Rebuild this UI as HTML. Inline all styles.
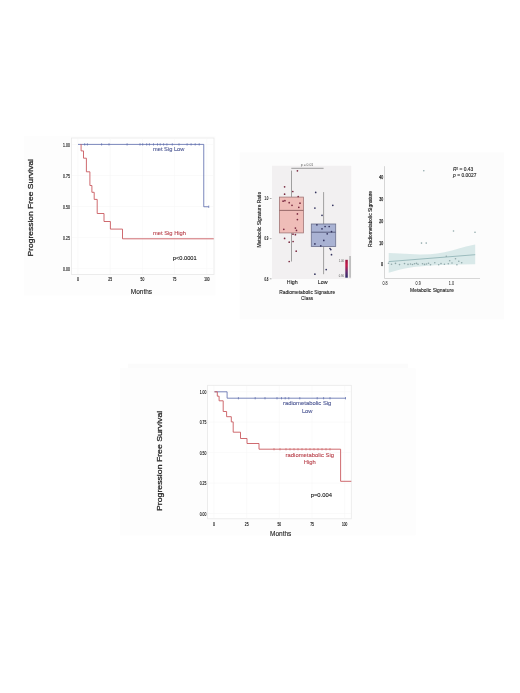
<!DOCTYPE html>
<html><head><meta charset="utf-8"><style>
html,body{margin:0;padding:0;background:#fff;width:520px;height:693px;overflow:hidden}
svg{position:absolute;left:0;top:0;display:block;filter:blur(0.35px)}
text{font-family:"Liberation Sans", sans-serif}
</style></head><body>
<svg width="520" height="693" viewBox="0 0 520 693" font-family='"Liberation Sans", sans-serif'>
<rect x="0" y="0" width="520" height="693" fill="#ffffff"/>
<rect x="23.8" y="136.2" width="191.7" height="159.2" fill="#fdfdfd" stroke="none" stroke-width="1"/>
<rect x="71.5" y="138" width="142.5" height="136.5" fill="#ffffff" stroke="#e8e8e8" stroke-width="0.8"/>
<path d="M78.00,138.5 V274" stroke="#f6f6f6" stroke-width="0.6" fill="none"/>
<path d="M110.20,138.5 V274" stroke="#f6f6f6" stroke-width="0.6" fill="none"/>
<path d="M142.40,138.5 V274" stroke="#f6f6f6" stroke-width="0.6" fill="none"/>
<path d="M174.60,138.5 V274" stroke="#f6f6f6" stroke-width="0.6" fill="none"/>
<path d="M206.80,138.5 V274" stroke="#f6f6f6" stroke-width="0.6" fill="none"/>
<path d="M72,268.60 H213.5" stroke="#f6f6f6" stroke-width="0.6" fill="none"/>
<path d="M72,237.55 H213.5" stroke="#f6f6f6" stroke-width="0.6" fill="none"/>
<path d="M72,206.50 H213.5" stroke="#f6f6f6" stroke-width="0.6" fill="none"/>
<path d="M72,175.45 H213.5" stroke="#f6f6f6" stroke-width="0.6" fill="none"/>
<path d="M72,144.40 H213.5" stroke="#f6f6f6" stroke-width="0.6" fill="none"/>
<text x="69.8" y="146.5" font-size="5.8" fill="#222" text-anchor="end" textLength="6.7" lengthAdjust="spacingAndGlyphs" stroke="#222" stroke-width="0.18">1.00</text>
<text x="69.8" y="177.55" font-size="5.8" fill="#222" text-anchor="end" textLength="6.7" lengthAdjust="spacingAndGlyphs" stroke="#222" stroke-width="0.18">0.75</text>
<text x="69.8" y="208.6" font-size="5.8" fill="#222" text-anchor="end" textLength="6.7" lengthAdjust="spacingAndGlyphs" stroke="#222" stroke-width="0.18">0.50</text>
<text x="69.8" y="239.65" font-size="5.8" fill="#222" text-anchor="end" textLength="6.7" lengthAdjust="spacingAndGlyphs" stroke="#222" stroke-width="0.18">0.25</text>
<text x="69.8" y="270.70000000000005" font-size="5.8" fill="#222" text-anchor="end" textLength="6.7" lengthAdjust="spacingAndGlyphs" stroke="#222" stroke-width="0.18">0.00</text>
<text x="78.0" y="280.6" font-size="5.0" fill="#222" text-anchor="middle" textLength="2.0" lengthAdjust="spacingAndGlyphs" stroke="#222" stroke-width="0.18">0</text>
<text x="110.2" y="280.6" font-size="5.0" fill="#222" text-anchor="middle" textLength="3.7" lengthAdjust="spacingAndGlyphs" stroke="#222" stroke-width="0.18">25</text>
<text x="142.4" y="280.6" font-size="5.0" fill="#222" text-anchor="middle" textLength="3.7" lengthAdjust="spacingAndGlyphs" stroke="#222" stroke-width="0.18">50</text>
<text x="174.6" y="280.6" font-size="5.0" fill="#222" text-anchor="middle" textLength="3.7" lengthAdjust="spacingAndGlyphs" stroke="#222" stroke-width="0.18">75</text>
<text x="206.8" y="280.6" font-size="5.0" fill="#222" text-anchor="middle" textLength="5.3" lengthAdjust="spacingAndGlyphs" stroke="#222" stroke-width="0.18">100</text>
<text x="141.4" y="294.2" font-size="6.5" fill="#222" text-anchor="middle" stroke="#222" stroke-width="0.1">Months</text>
<text x="0" y="0" font-size="8.5" fill="#222" text-anchor="middle" textLength="97.5" lengthAdjust="spacingAndGlyphs" stroke="#222" stroke-width="0.3" transform="translate(33.4 207.75) scale(0.8 1) rotate(-90)">Progression Free Survival</text>
<path d="M78,144.4 H203.75 V206.75 H208.75" stroke="#4f5fa6" stroke-width="0.75" fill="none"/>
<path d="M84.7,143.2 V145.6" stroke="#4f5fa6" stroke-width="0.6" fill="none"/>
<path d="M87.4,143.2 V145.6" stroke="#4f5fa6" stroke-width="0.6" fill="none"/>
<path d="M101.6,143.2 V145.6" stroke="#4f5fa6" stroke-width="0.6" fill="none"/>
<path d="M109,143.2 V145.6" stroke="#4f5fa6" stroke-width="0.6" fill="none"/>
<path d="M127.1,143.2 V145.6" stroke="#4f5fa6" stroke-width="0.6" fill="none"/>
<path d="M140,143.2 V145.6" stroke="#4f5fa6" stroke-width="0.6" fill="none"/>
<path d="M142.7,143.2 V145.6" stroke="#4f5fa6" stroke-width="0.6" fill="none"/>
<path d="M146.7,143.2 V145.6" stroke="#4f5fa6" stroke-width="0.6" fill="none"/>
<path d="M149.4,143.2 V145.6" stroke="#4f5fa6" stroke-width="0.6" fill="none"/>
<path d="M153.5,143.2 V145.6" stroke="#4f5fa6" stroke-width="0.6" fill="none"/>
<path d="M157.5,143.2 V145.6" stroke="#4f5fa6" stroke-width="0.6" fill="none"/>
<path d="M160.2,143.2 V145.6" stroke="#4f5fa6" stroke-width="0.6" fill="none"/>
<path d="M163.6,143.2 V145.6" stroke="#4f5fa6" stroke-width="0.6" fill="none"/>
<path d="M166.9,143.2 V145.6" stroke="#4f5fa6" stroke-width="0.6" fill="none"/>
<path d="M172.3,143.2 V145.6" stroke="#4f5fa6" stroke-width="0.6" fill="none"/>
<path d="M179,143.2 V145.6" stroke="#4f5fa6" stroke-width="0.6" fill="none"/>
<path d="M187.1,143.2 V145.6" stroke="#4f5fa6" stroke-width="0.6" fill="none"/>
<path d="M191.1,143.2 V145.6" stroke="#4f5fa6" stroke-width="0.6" fill="none"/>
<path d="M195.2,143.2 V145.6" stroke="#4f5fa6" stroke-width="0.6" fill="none"/>
<path d="M199.2,143.2 V145.6" stroke="#4f5fa6" stroke-width="0.6" fill="none"/>
<path d="M208.75,205.5 V208" stroke="#4f5fa6" stroke-width="0.6" fill="none"/>
<path d="M80.8,144.4 L81.1,144.4 L81.1,150.9 L83.5,150.9 L83.5,158.2 L86.4,158.2 L86.4,171.8 L89.9,171.8 L89.9,185.5 L91.9,185.5 L91.9,192.3 L94.2,192.3 L94.2,199.4 L97.2,199.4 L97.2,213.5 L104,213.5 L104,221.5 L110.4,221.5 L110.4,229.1 L122.5,229.1 L122.5,238.8 L213.75,238.8" stroke="#c95a60" stroke-width="0.9" fill="none"/>
<text x="168.7" y="151.1" font-size="6.1" fill="#4a5592" text-anchor="middle" textLength="31.4" lengthAdjust="spacingAndGlyphs" stroke="#4a5592" stroke-width="0.1">met Sig Low</text>
<text x="169.5" y="235.1" font-size="6.1" fill="#b8404a" text-anchor="middle" textLength="33.0" lengthAdjust="spacingAndGlyphs" stroke="#b8404a" stroke-width="0.1">met Sig High</text>
<text x="184.7" y="259.5" font-size="6.0" fill="#111" text-anchor="middle" textLength="23.8" lengthAdjust="spacingAndGlyphs" stroke="#111" stroke-width="0.1">p&lt;0.0001</text>
<rect x="239.7" y="152.3" width="264.1" height="167.1" fill="#fcfcfc" stroke="none" stroke-width="1"/>
<rect x="272" y="165.8" width="79.2" height="113.2" fill="#f2f0f1" stroke="none" stroke-width="1"/>
<text x="268.4" y="200.20000000000002" font-size="4.8" fill="#222" text-anchor="end" textLength="4.0" lengthAdjust="spacingAndGlyphs" stroke="#222" stroke-width="0.18">1.0</text>
<path d="M269.8,198.50 H271.5" stroke="#555" stroke-width="0.5" fill="none"/>
<text x="268.4" y="240.35000000000002" font-size="4.8" fill="#222" text-anchor="end" textLength="4.0" lengthAdjust="spacingAndGlyphs" stroke="#222" stroke-width="0.18">0.9</text>
<path d="M269.8,238.65 H271.5" stroke="#555" stroke-width="0.5" fill="none"/>
<text x="268.4" y="280.5" font-size="4.8" fill="#222" text-anchor="end" textLength="4.0" lengthAdjust="spacingAndGlyphs" stroke="#222" stroke-width="0.18">0.8</text>
<path d="M269.8,278.80 H271.5" stroke="#555" stroke-width="0.5" fill="none"/>
<text x="0" y="0" font-size="5.0" fill="#222" text-anchor="middle" textLength="55.6" lengthAdjust="spacingAndGlyphs" stroke="#222" stroke-width="0.15" transform="translate(260.9 219.7) scale(0.95 1) rotate(-90)">Metabolic Signature Ratio</text>
<path d="M291.5,170.6 V197.1 M291.5,232.9 V261.5" stroke="#8a8a8a" stroke-width="0.8" fill="none"/>
<rect x="279.4" y="197.1" width="24" height="35.8" fill="#efbdb8" stroke="#a27676" stroke-width="0.8"/>
<path d="M279.4,210.4 H303.4" stroke="#8d6060" stroke-width="0.9" fill="none"/>
<path d="M323.6,192.1 V224 M323.6,246.5 V274.2" stroke="#8a8a8a" stroke-width="0.8" fill="none"/>
<rect x="311.3" y="224" width="24.4" height="22.5" fill="#a9b2d3" stroke="#6b6f8c" stroke-width="0.8"/>
<path d="M311.3,232.2 H335.7" stroke="#5a5f80" stroke-width="1.0" fill="none"/>
<path d="M291.3,168.3 H323.6" stroke="#777" stroke-width="0.7" fill="none"/>
<text x="307.0" y="166.3" font-size="4.0" fill="#555" text-anchor="middle" textLength="12.4" lengthAdjust="spacingAndGlyphs">p = 0.01</text>
<text x="292.3" y="284.4" font-size="5.3" fill="#222" text-anchor="middle" stroke="#222" stroke-width="0.1">High</text>
<text x="322.6" y="284.4" font-size="5.3" fill="#222" text-anchor="middle" stroke="#222" stroke-width="0.1">Low</text>
<text x="307.2" y="294.0" font-size="4.9" fill="#222" text-anchor="middle" textLength="56" lengthAdjust="spacingAndGlyphs" stroke="#222" stroke-width="0.1">Radiometabolic Signature</text>
<text x="307.2" y="300.0" font-size="4.9" fill="#222" text-anchor="middle" textLength="12.2" lengthAdjust="spacingAndGlyphs" stroke="#222" stroke-width="0.1">Class</text>
<defs><linearGradient id="cb" x1="0" y1="0" x2="0" y2="1"><stop offset="0" stop-color="#9a1840"/><stop offset="0.3" stop-color="#c81a4a"/><stop offset="0.65" stop-color="#6a2a6e"/><stop offset="1" stop-color="#2a2a68"/></linearGradient></defs>
<rect x="345.3" y="259.8" width="2.5" height="17.9" fill="url(#cb)" stroke="none" stroke-width="1"/>
<text x="344.0" y="262.4" font-size="3.0" fill="#555" text-anchor="end" textLength="5.2" lengthAdjust="spacingAndGlyphs">1.00</text>
<text x="344.0" y="277.2" font-size="3.0" fill="#555" text-anchor="end" textLength="5.2" lengthAdjust="spacingAndGlyphs">0.90</text>
<circle cx="297.4" cy="170.8" r="0.85" fill="#7a2a40"/>
<circle cx="284.6" cy="186.8" r="0.85" fill="#7a2a40"/>
<circle cx="284.6" cy="194.2" r="0.85" fill="#7a2a40"/>
<circle cx="292.8" cy="191.5" r="0.85" fill="#7a2a40"/>
<circle cx="298.2" cy="196.5" r="0.85" fill="#7a2a40"/>
<circle cx="283.1" cy="201.2" r="0.85" fill="#7a2a40"/>
<circle cx="284.9" cy="200.7" r="0.85" fill="#7a2a40"/>
<circle cx="289.2" cy="202.7" r="0.85" fill="#7a2a40"/>
<circle cx="292" cy="205.3" r="0.85" fill="#7a2a40"/>
<circle cx="300" cy="203.2" r="0.85" fill="#7a2a40"/>
<circle cx="298.8" cy="207.3" r="0.85" fill="#7a2a40"/>
<circle cx="297.4" cy="213.9" r="0.85" fill="#7a2a40"/>
<circle cx="297.4" cy="219.6" r="0.85" fill="#7a2a40"/>
<circle cx="283.8" cy="229.3" r="0.85" fill="#7a2a40"/>
<circle cx="295.4" cy="228.1" r="0.85" fill="#7a2a40"/>
<circle cx="296.5" cy="230.4" r="0.85" fill="#7a2a40"/>
<circle cx="293" cy="234.2" r="0.85" fill="#7a2a40"/>
<circle cx="295.4" cy="234.7" r="0.85" fill="#7a2a40"/>
<circle cx="284.6" cy="238.4" r="0.85" fill="#7a2a40"/>
<circle cx="289.2" cy="242.2" r="0.85" fill="#7a2a40"/>
<circle cx="293.1" cy="241.5" r="0.85" fill="#7a2a40"/>
<circle cx="296.2" cy="251.2" r="0.85" fill="#7a2a40"/>
<circle cx="289.2" cy="261.5" r="0.85" fill="#7a2a40"/>
<circle cx="315.7" cy="192.4" r="0.85" fill="#33335e"/>
<circle cx="314.9" cy="208.1" r="0.85" fill="#33335e"/>
<circle cx="332.8" cy="205.3" r="0.85" fill="#33335e"/>
<circle cx="322" cy="215.3" r="0.85" fill="#33335e"/>
<circle cx="316.9" cy="224.8" r="0.85" fill="#33335e"/>
<circle cx="325.1" cy="226.5" r="0.85" fill="#33335e"/>
<circle cx="329.2" cy="226.5" r="0.85" fill="#33335e"/>
<circle cx="322" cy="228.8" r="0.85" fill="#33335e"/>
<circle cx="331.5" cy="231.6" r="0.85" fill="#33335e"/>
<circle cx="327.2" cy="233.8" r="0.85" fill="#33335e"/>
<circle cx="323.8" cy="240.4" r="0.85" fill="#33335e"/>
<circle cx="314.9" cy="243.9" r="0.85" fill="#33335e"/>
<circle cx="320.8" cy="245.8" r="0.85" fill="#33335e"/>
<circle cx="330" cy="248.5" r="0.85" fill="#33335e"/>
<circle cx="330.8" cy="249.6" r="0.85" fill="#33335e"/>
<circle cx="331.5" cy="254.7" r="0.85" fill="#33335e"/>
<circle cx="326.2" cy="269.6" r="0.85" fill="#33335e"/>
<circle cx="314.9" cy="274.2" r="0.85" fill="#33335e"/>
<rect x="349.4" y="256" width="1.3" height="21.7" fill="#aaaaaa" stroke="none" stroke-width="1"/>
<polygon points="388.7,253.0 400,253.6 410,254.1 420,254.4 430,254.2 437,253.4 444.4,252.3 452,250.5 458.8,248.5 466,246.6 475.2,244.6 475.2,264.3 460,264.4 445,264.7 435,265.2 425,266.0 413.8,267.1 405,268.5 399.4,269.8 394,271.2 388.7,272.7" fill="#d9e9e9"/>
<path d="M388.7,261.6 L475.2,254.7" stroke="#8cb0b2" stroke-width="0.8" fill="none"/>
<path d="M384.5,166.2 V278.5 H480" stroke="#cccccc" stroke-width="0.8" fill="none"/>
<text x="383.1" y="179.25" font-size="5.0" fill="#222" text-anchor="end" textLength="3.9" lengthAdjust="spacingAndGlyphs" stroke="#222" stroke-width="0.25">40</text>
<text x="383.1" y="201.0" font-size="5.0" fill="#222" text-anchor="end" textLength="3.9" lengthAdjust="spacingAndGlyphs" stroke="#222" stroke-width="0.25">30</text>
<text x="383.1" y="222.74999999999997" font-size="5.0" fill="#222" text-anchor="end" textLength="3.9" lengthAdjust="spacingAndGlyphs" stroke="#222" stroke-width="0.25">20</text>
<text x="383.1" y="244.49999999999997" font-size="5.0" fill="#222" text-anchor="end" textLength="3.9" lengthAdjust="spacingAndGlyphs" stroke="#222" stroke-width="0.25">10</text>
<text x="383.1" y="266.25" font-size="5.0" fill="#222" text-anchor="end" textLength="2.1" lengthAdjust="spacingAndGlyphs" stroke="#222" stroke-width="0.25">0</text>
<text x="385.0" y="285.0" font-size="4.8" fill="#333" text-anchor="middle" textLength="5.2" lengthAdjust="spacingAndGlyphs" stroke="#333" stroke-width="0.05">0.8</text>
<text x="418.2" y="285.0" font-size="4.8" fill="#333" text-anchor="middle" textLength="5.2" lengthAdjust="spacingAndGlyphs" stroke="#333" stroke-width="0.05">0.9</text>
<text x="451.4" y="285.0" font-size="4.8" fill="#333" text-anchor="middle" textLength="5.2" lengthAdjust="spacingAndGlyphs" stroke="#333" stroke-width="0.05">1.0</text>
<text x="432" y="291.8" font-size="5.0" fill="#222" text-anchor="middle" textLength="43.8" lengthAdjust="spacingAndGlyphs" stroke="#222" stroke-width="0.1">Metabolic Signature</text>
<text x="0" y="0" font-size="4.9" fill="#222" text-anchor="middle" textLength="56" lengthAdjust="spacingAndGlyphs" stroke="#222" stroke-width="0.15" transform="translate(372.4 219.0) scale(1.05 1) rotate(-90)">Radiometabolic Signature</text>
<text x="453" y="171.4" font-size="4.9" fill="#222" stroke="#222" stroke-width="0.12" textLength="20.2" lengthAdjust="spacing"><tspan font-style="italic">R</tspan><tspan font-size="3" dy="-1.6">2</tspan><tspan dy="1.6"> = 0.43</tspan></text>
<text x="453" y="177.2" font-size="4.9" fill="#222" stroke="#222" stroke-width="0.12" textLength="23.5" lengthAdjust="spacing"><tspan font-style="italic">p</tspan> = 0.0027</text>
<circle cx="423.8" cy="170.8" r="0.8" fill="#8fa8aa"/>
<circle cx="421.5" cy="243.1" r="0.8" fill="#8fa8aa"/>
<circle cx="426.2" cy="243.1" r="0.8" fill="#8fa8aa"/>
<circle cx="453.5" cy="231.0" r="0.8" fill="#8fa8aa"/>
<circle cx="475.0" cy="232.2" r="0.8" fill="#8fa8aa"/>
<circle cx="388.5" cy="263.2" r="0.8" fill="#8fa8aa"/>
<circle cx="391.5" cy="264.3" r="0.8" fill="#8fa8aa"/>
<circle cx="395.5" cy="263.4" r="0.8" fill="#8fa8aa"/>
<circle cx="399.5" cy="264.6" r="0.8" fill="#8fa8aa"/>
<circle cx="404.5" cy="263.6" r="0.8" fill="#8fa8aa"/>
<circle cx="408.0" cy="264.4" r="0.8" fill="#8fa8aa"/>
<circle cx="410.5" cy="264.0" r="0.8" fill="#8fa8aa"/>
<circle cx="412.5" cy="264.5" r="0.8" fill="#8fa8aa"/>
<circle cx="414.5" cy="263.8" r="0.8" fill="#8fa8aa"/>
<circle cx="416.5" cy="263.4" r="0.8" fill="#8fa8aa"/>
<circle cx="418.0" cy="264.2" r="0.8" fill="#8fa8aa"/>
<circle cx="422.5" cy="263.8" r="0.8" fill="#8fa8aa"/>
<circle cx="424.5" cy="264.4" r="0.8" fill="#8fa8aa"/>
<circle cx="426.5" cy="264.0" r="0.8" fill="#8fa8aa"/>
<circle cx="428.5" cy="263.2" r="0.8" fill="#8fa8aa"/>
<circle cx="430.5" cy="264.8" r="0.8" fill="#8fa8aa"/>
<circle cx="434.8" cy="262.8" r="0.8" fill="#8fa8aa"/>
<circle cx="438.7" cy="264.8" r="0.8" fill="#8fa8aa"/>
<circle cx="441.0" cy="263.6" r="0.8" fill="#8fa8aa"/>
<circle cx="444.4" cy="264.3" r="0.8" fill="#8fa8aa"/>
<circle cx="446.3" cy="256.3" r="0.8" fill="#8fa8aa"/>
<circle cx="448.3" cy="263.8" r="0.8" fill="#8fa8aa"/>
<circle cx="449.7" cy="260.8" r="0.8" fill="#8fa8aa"/>
<circle cx="452.0" cy="263.0" r="0.8" fill="#8fa8aa"/>
<circle cx="455.5" cy="258.8" r="0.8" fill="#8fa8aa"/>
<circle cx="456.9" cy="264.8" r="0.8" fill="#8fa8aa"/>
<circle cx="458.8" cy="261.3" r="0.8" fill="#8fa8aa"/>
<circle cx="461.7" cy="262.8" r="0.8" fill="#8fa8aa"/>
<rect x="128" y="363.8" width="280" height="10" fill="#fbfbfb" stroke="none" stroke-width="1"/>
<rect x="120" y="368.2" width="295.7" height="167.2" fill="#fdfdfd" stroke="none" stroke-width="1"/>
<rect x="207.6" y="385.3" width="143.7" height="133.5" fill="#ffffff" stroke="#e8e8e8" stroke-width="0.8"/>
<path d="M214.00,385.8 V518.3" stroke="#f6f6f6" stroke-width="0.6" fill="none"/>
<path d="M246.68,385.8 V518.3" stroke="#f6f6f6" stroke-width="0.6" fill="none"/>
<path d="M279.35,385.8 V518.3" stroke="#f6f6f6" stroke-width="0.6" fill="none"/>
<path d="M312.02,385.8 V518.3" stroke="#f6f6f6" stroke-width="0.6" fill="none"/>
<path d="M344.70,385.8 V518.3" stroke="#f6f6f6" stroke-width="0.6" fill="none"/>
<path d="M208,513.50 H351" stroke="#f6f6f6" stroke-width="0.6" fill="none"/>
<path d="M208,483.05 H351" stroke="#f6f6f6" stroke-width="0.6" fill="none"/>
<path d="M208,452.60 H351" stroke="#f6f6f6" stroke-width="0.6" fill="none"/>
<path d="M208,422.15 H351" stroke="#f6f6f6" stroke-width="0.6" fill="none"/>
<path d="M208,391.70 H351" stroke="#f6f6f6" stroke-width="0.6" fill="none"/>
<text x="206.3" y="393.7" font-size="5.6" fill="#222" text-anchor="end" textLength="6.6" lengthAdjust="spacingAndGlyphs" stroke="#222" stroke-width="0.18">1.00</text>
<text x="206.3" y="424.15" font-size="5.6" fill="#222" text-anchor="end" textLength="6.6" lengthAdjust="spacingAndGlyphs" stroke="#222" stroke-width="0.18">0.75</text>
<text x="206.3" y="454.6" font-size="5.6" fill="#222" text-anchor="end" textLength="6.6" lengthAdjust="spacingAndGlyphs" stroke="#222" stroke-width="0.18">0.50</text>
<text x="206.3" y="485.05" font-size="5.6" fill="#222" text-anchor="end" textLength="6.6" lengthAdjust="spacingAndGlyphs" stroke="#222" stroke-width="0.18">0.25</text>
<text x="206.3" y="515.5" font-size="5.6" fill="#222" text-anchor="end" textLength="6.6" lengthAdjust="spacingAndGlyphs" stroke="#222" stroke-width="0.18">0.00</text>
<text x="214.0" y="525.8" font-size="5.0" fill="#222" text-anchor="middle" textLength="2.0" lengthAdjust="spacingAndGlyphs" stroke="#222" stroke-width="0.18">0</text>
<text x="246.675" y="525.8" font-size="5.0" fill="#222" text-anchor="middle" textLength="3.7" lengthAdjust="spacingAndGlyphs" stroke="#222" stroke-width="0.18">25</text>
<text x="279.35" y="525.8" font-size="5.0" fill="#222" text-anchor="middle" textLength="3.7" lengthAdjust="spacingAndGlyphs" stroke="#222" stroke-width="0.18">50</text>
<text x="312.025" y="525.8" font-size="5.0" fill="#222" text-anchor="middle" textLength="3.7" lengthAdjust="spacingAndGlyphs" stroke="#222" stroke-width="0.18">75</text>
<text x="344.7" y="525.8" font-size="5.0" fill="#222" text-anchor="middle" textLength="5.3" lengthAdjust="spacingAndGlyphs" stroke="#222" stroke-width="0.18">100</text>
<text x="280.7" y="535.5" font-size="6.5" fill="#222" text-anchor="middle" stroke="#222" stroke-width="0.1">Months</text>
<text x="0" y="0" font-size="8.5" fill="#222" text-anchor="middle" textLength="100.2" lengthAdjust="spacingAndGlyphs" stroke="#222" stroke-width="0.3" transform="translate(162.4 460.9) scale(0.8 1) rotate(-90)">Progression Free Survival</text>
<path d="M214.5,391.8 H227.1 V398.2 H345.8" stroke="#4f5fa6" stroke-width="0.75" fill="none"/>
<path d="M238.4,397 V399.4" stroke="#4f5fa6" stroke-width="0.6" fill="none"/>
<path d="M255.2,397 V399.4" stroke="#4f5fa6" stroke-width="0.6" fill="none"/>
<path d="M265,397 V399.4" stroke="#4f5fa6" stroke-width="0.6" fill="none"/>
<path d="M277,397 V399.4" stroke="#4f5fa6" stroke-width="0.6" fill="none"/>
<path d="M281.5,397 V399.4" stroke="#4f5fa6" stroke-width="0.6" fill="none"/>
<path d="M285.2,397 V399.4" stroke="#4f5fa6" stroke-width="0.6" fill="none"/>
<path d="M288.8,397 V399.4" stroke="#4f5fa6" stroke-width="0.6" fill="none"/>
<path d="M299.8,397 V399.4" stroke="#4f5fa6" stroke-width="0.6" fill="none"/>
<path d="M317.2,397 V399.4" stroke="#4f5fa6" stroke-width="0.6" fill="none"/>
<path d="M323.6,397 V399.4" stroke="#4f5fa6" stroke-width="0.6" fill="none"/>
<path d="M330,397 V399.4" stroke="#4f5fa6" stroke-width="0.6" fill="none"/>
<path d="M345.5,397 V399.4" stroke="#4f5fa6" stroke-width="0.6" fill="none"/>
<path d="M214.5,391.8 L217.3,391.8 L217.3,396.2 L219.1,396.2 L219.1,400.8 L223.2,400.8 L223.2,411.5 L226.6,411.5 L226.6,416.7 L231.3,416.7 L231.3,421.9 L233.2,421.9 L233.2,432.2 L240.5,432.2 L240.5,438.5 L247,438.5 L247,443.5 L259,443.5 L259,449.2 L340.6,449.2 L340.6,481.3 L351.3,481.3" stroke="#c95a60" stroke-width="0.9" fill="none"/>
<path d="M274,448 V450.4" stroke="#c95a60" stroke-width="0.6" fill="none"/>
<path d="M280,448 V450.4" stroke="#c95a60" stroke-width="0.6" fill="none"/>
<path d="M286,448 V450.4" stroke="#c95a60" stroke-width="0.6" fill="none"/>
<path d="M290,448 V450.4" stroke="#c95a60" stroke-width="0.6" fill="none"/>
<path d="M294,448 V450.4" stroke="#c95a60" stroke-width="0.6" fill="none"/>
<path d="M298,448 V450.4" stroke="#c95a60" stroke-width="0.6" fill="none"/>
<path d="M302,448 V450.4" stroke="#c95a60" stroke-width="0.6" fill="none"/>
<path d="M306,448 V450.4" stroke="#c95a60" stroke-width="0.6" fill="none"/>
<path d="M310,448 V450.4" stroke="#c95a60" stroke-width="0.6" fill="none"/>
<path d="M314,448 V450.4" stroke="#c95a60" stroke-width="0.6" fill="none"/>
<path d="M318,448 V450.4" stroke="#c95a60" stroke-width="0.6" fill="none"/>
<path d="M322,448 V450.4" stroke="#c95a60" stroke-width="0.6" fill="none"/>
<path d="M326,448 V450.4" stroke="#c95a60" stroke-width="0.6" fill="none"/>
<path d="M330,448 V450.4" stroke="#c95a60" stroke-width="0.6" fill="none"/>
<text x="307.2" y="405.1" font-size="6.1" fill="#4a5592" text-anchor="middle" textLength="48.4" lengthAdjust="spacingAndGlyphs" stroke="#4a5592" stroke-width="0.1">radiometabolic Sig</text>
<text x="307.2" y="412.5" font-size="6.1" fill="#4a5592" text-anchor="middle" textLength="10.6" lengthAdjust="spacingAndGlyphs" stroke="#4a5592" stroke-width="0.1">Low</text>
<text x="309.8" y="457.1" font-size="6.1" fill="#b8404a" text-anchor="middle" textLength="48.4" lengthAdjust="spacingAndGlyphs" stroke="#b8404a" stroke-width="0.1">radiometabolic Sig</text>
<text x="309.8" y="464.4" font-size="6.1" fill="#b8404a" text-anchor="middle" textLength="12.0" lengthAdjust="spacingAndGlyphs" stroke="#b8404a" stroke-width="0.1">High</text>
<text x="321.3" y="497.4" font-size="6.2" fill="#111" text-anchor="middle" textLength="21.3" lengthAdjust="spacingAndGlyphs" stroke="#111" stroke-width="0.1">p=0.004</text>
</svg>
</body></html>
